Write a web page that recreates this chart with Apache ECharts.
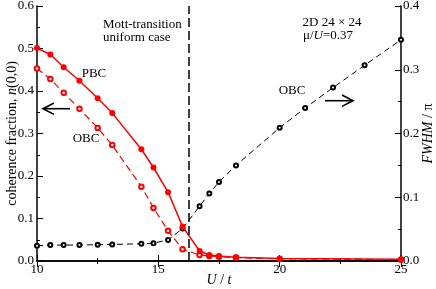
<!DOCTYPE html>
<html>
<head>
<meta charset="utf-8">
<script src="https://cdn.jsdelivr.net/npm/echarts@6/dist/echarts.min.js"></script>
<style>html,body{margin:0;padding:0;background:#fff}#c{width:436px;height:289px}</style>
</head>
<body>
<div id="c"></div>
<script>
// U/t values for the red (n(0,0)) series
const uRed = [10, 10.55, 11.1, 11.75, 12.5, 13.1, 14.3, 14.8, 15.4, 16.0, 16.7, 17.1, 17.5, 18.2, 20, 25];
// coherence fraction, PBC (filled)
const pbc = [0.501, 0.486, 0.456, 0.424, 0.383, 0.348, 0.263, 0.220, 0.162, 0.081, 0.0235, 0.014, 0.012, 0.009, 0.006, 0.004];
// coherence fraction, OBC (open)
const obcRed = [0.453, 0.428, 0.396, 0.358, 0.313, 0.273, 0.175, 0.125, 0.071, 0.0275, 0.014, 0.012, 0.010, 0.008, 0.005, 0.003];
// U/t values for the black FWHM series
const uBlack = [10, 10.55, 11.1, 11.75, 12.5, 13.1, 14.3, 14.8, 15.4, 16.0, 16.7, 17.1, 17.5, 18.2, 20, 21.05, 22.2, 23.5, 25];
// FWHM / pi, OBC
const fwhm = [0.024, 0.025, 0.025, 0.025, 0.0256, 0.026, 0.027, 0.028, 0.033, 0.051, 0.086, 0.106, 0.124, 0.150, 0.209, 0.240, 0.272, 0.307, 0.347];
// Mott transition, uniform case
const mottU = [16.25];

const FONT = 'Liberation Serif';
const pairs = (xs, ys) => xs.map((x, i) => [x, ys[i]]);

const chart = echarts.init(document.getElementById('c'), null, {renderer: 'canvas'});
const axisLine = {show: true, lineStyle: {color: '#000', width: 1.5}};
const tickIn = {show: true, inside: true, length: 6, lineStyle: {color: '#000', width: 1}};
const minorIn = {show: true, splitNumber: 2, length: 3, lineStyle: {color: '#000', width: 1}};

chart.setOption({
  animation: false,
  backgroundColor: '#fff',
  grid: {left: 37, right: 35, top: 6, bottom: 28, containLabel: false, outerBoundsMode: 'none'},
  xAxis: [{
    type: 'value', min: 10, max: 25, interval: 5, position: 'bottom',
    axisLine: axisLine, axisTick: tickIn, minorTick: minorIn,
    splitLine: {show: false},
    axisLabel: {color: '#000', fontFamily: FONT, fontSize: 13, margin: 2},
    name: '{i|U} / {i|t}', nameLocation: 'middle', nameGap: 12, nameMoveOverlap: false,
    nameTextStyle: {color: '#000', fontFamily: FONT, fontSize: 14,
      rich: {i: {fontStyle: 'italic', fontFamily: FONT, fontSize: 14, color: '#000'}}}
  }, {
    type: 'value', min: 10, max: 25, interval: 5, position: 'top',
    axisLine: axisLine, axisTick: tickIn, minorTick: minorIn,
    splitLine: {show: false}, axisLabel: {show: false}
  }],
  yAxis: [{
    type: 'value', min: 0, max: 0.6, interval: 0.1, position: 'left',
    axisLine: axisLine, axisTick: tickIn, minorTick: minorIn,
    splitLine: {show: false},
    axisLabel: {color: '#000', fontFamily: FONT, fontSize: 13, margin: 3,
      formatter: v => v.toFixed(1)},
    name: 'coherence fraction, {i|n}(0,0)', nameLocation: 'middle', nameGap: 25, nameRotate: 90, nameMoveOverlap: false,
    nameTextStyle: {color: '#000', fontFamily: FONT, fontSize: 14, verticalAlign: 'middle',
      rich: {i: {fontStyle: 'italic', fontFamily: FONT, fontSize: 14, color: '#000'}}}
  }, {
    type: 'value', min: 0, max: 0.4, interval: 0.1, position: 'right',
    axisLine: axisLine, axisTick: tickIn, minorTick: minorIn,
    splitLine: {show: false},
    axisLabel: {color: '#000', fontFamily: FONT, fontSize: 13, margin: 2,
      formatter: v => v.toFixed(1)},
    name: '{i|FWHM} / π', nameLocation: 'middle', nameGap: 27, nameRotate: 90, nameMoveOverlap: false,
    nameTextStyle: {color: '#000', fontFamily: FONT, fontSize: 14, verticalAlign: 'middle',
      rich: {i: {fontStyle: 'italic', fontFamily: FONT, fontSize: 14, color: '#000'}}}
  }],
  series: [{
    name: 'FWHM OBC', type: 'line', xAxisIndex: 0, yAxisIndex: 1, z: 2,
    data: pairs(uBlack, fwhm),
    symbol: 'emptyCircle', symbolSize: 4,
    lineStyle: {color: '#000', width: 1, type: [6, 4]},
    itemStyle: {color: '#000', borderWidth: 0.8},
    markLine: {
      silent: true, symbol: 'none', label: {show: false},
      lineStyle: {color: '#000', width: 1.5, type: [9, 4]},
      data: mottU.map(v => ({xAxis: v}))
    }
  }, {
    name: 'OBC', type: 'line', xAxisIndex: 0, yAxisIndex: 0, z: 3,
    data: pairs(uRed, obcRed),
    symbol: 'emptyCircle', symbolSize: 4.5,
    lineStyle: {color: '#ff0000', width: 1.2, type: [7, 4]},
    itemStyle: {color: '#ff0000', borderWidth: 0.9}
  }, {
    name: 'PBC', type: 'line', xAxisIndex: 0, yAxisIndex: 0, z: 4,
    data: pairs(uRed, pbc),
    symbol: 'circle', symbolSize: 6,
    lineStyle: {color: '#ff0000', width: 1.5},
    itemStyle: {color: '#ff0000'}
  }],
  graphic: [
    {type: 'text', left: 103, top: 18, style: {text: 'Mott-transition\nuniform case', font: '13px "Liberation Serif"', fill: '#000', lineHeight: 13}},
    {type: 'text', x: 332, y: 23, style: {text: '2D 24 × 24', font: '13px "Liberation Serif"', fill: '#000', align: 'center', verticalAlign: 'middle'}},
    {type: 'text', x: 328, y: 36, style: {text: 'μ/{i|U}=0.37', font: '13px "Liberation Serif"', fill: '#000', align: 'center', verticalAlign: 'middle',
      rich: {i: {font: 'italic 13px "Liberation Serif"', fill: '#000'}}}},
    {type: 'text', x: 94, y: 74, style: {text: 'PBC', font: '13px "Liberation Serif"', fill: '#000', align: 'center', verticalAlign: 'middle'}},
    {type: 'text', x: 86, y: 139, style: {text: 'OBC', font: '13px "Liberation Serif"', fill: '#000', align: 'center', verticalAlign: 'middle'}},
    {type: 'text', x: 292, y: 91, style: {text: 'OBC', font: '13px "Liberation Serif"', fill: '#000', align: 'center', verticalAlign: 'middle'}},
    {type: 'polyline', shape: {points: [[43, 108.7], [70, 108.7]]}, style: {stroke: '#000', lineWidth: 1.6, fill: null}},
    {type: 'polyline', shape: {points: [[54, 103], [43, 108.7], [54, 114.4]]}, style: {stroke: '#000', lineWidth: 1.6, fill: null}},
    {type: 'polyline', shape: {points: [[325, 100.7], [353, 100.7]]}, style: {stroke: '#000', lineWidth: 1.6, fill: null}},
    {type: 'polyline', shape: {points: [[342, 95], [353, 100.7], [342, 106.4]]}, style: {stroke: '#000', lineWidth: 1.6, fill: null}}
  ]
});
</script>
</body>
</html>
